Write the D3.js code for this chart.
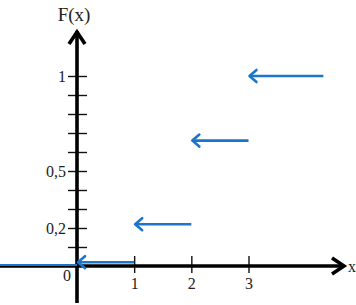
<!DOCTYPE html>
<html>
<head>
<meta charset="utf-8">
<script src="https://cdn.jsdelivr.net/npm/d3@7"></script>
<style>
  body { margin: 0; background: #fff; }
  svg { display: block; }
  text { font-family: "Liberation Serif", "Times New Roman", serif; fill: #222; }
</style>
</head>
<body>
<div id="chart"></div>
<script>
// step function F(x): each step starts at stepStart and runs to stepEnd
const stepStart = [-1.35, 0, 1, 2, 3];
const stepEnd = [0, 1, 2, 3, 4.31];
const stepValue = [0, 0.02, 0.22, 0.66, 1];

const xTicks = [1, 2, 3];
const yTicks = [0.1, 0.2, 0.3, 0.4, 0.5, 0.6, 0.7, 0.8, 0.9, 1];
const yLabels = {0.2: "0,2", 0.5: "0,5", 1: "1"};

const width = 356;
const height = 305;
const blue = "#1c75c9";

const svg = d3.select("#chart")
  .append("svg")
  .attr("width", width)
  .attr("height", height);

// scales: origin at (77, 266)
const x = d3.scaleLinear().domain([0, 3]).range([77, 248.5]);
const y = d3.scaleLinear().domain([0, 1]).range([266, 76]);

// y ticks, right half (no labels)
svg.append("g")
  .attr("transform", `translate(${x(0)},0)`)
  .call(d3.axisLeft(y).tickValues(yTicks).tickSize(-10).tickFormat(""))
  .call(g => g.select(".domain").remove())
  .call(g => g.selectAll("line").attr("stroke", "#111").attr("stroke-width", 1.4));

// y ticks, left half with labels
svg.append("g")
  .attr("transform", `translate(${x(0)},0)`)
  .call(d3.axisLeft(y).tickValues(yTicks).tickSize(9).tickPadding(2)
        .tickFormat(d => yLabels[d] || ""))
  .call(g => g.select(".domain").remove())
  .call(g => g.selectAll("line").attr("stroke", "#111").attr("stroke-width", 1.4))
  .call(g => g.selectAll("text").attr("font-size", 16)
        .attr("font-family", "Liberation Serif").attr("fill", "#333"));

// x ticks, upper half
svg.append("g")
  .attr("transform", `translate(0,${y(0)})`)
  .call(d3.axisBottom(x).tickValues(xTicks).tickSize(-10).tickFormat(""))
  .call(g => g.select(".domain").remove())
  .call(g => g.selectAll("line").attr("stroke", "#111").attr("stroke-width", 1.4));

// x ticks, lower half with labels
svg.append("g")
  .attr("transform", `translate(0,${y(0)})`)
  .call(d3.axisBottom(x).tickValues(xTicks).tickSize(7).tickPadding(5).tickFormat(d3.format("d")))
  .call(g => g.select(".domain").remove())
  .call(g => g.selectAll("line").attr("stroke", "#111").attr("stroke-width", 1.4))
  .call(g => g.selectAll("text").attr("font-size", 16)
        .attr("font-family", "Liberation Serif").attr("fill", "#333"));

// main axis lines
svg.append("line")
  .attr("x1", 0).attr("x2", 344)
  .attr("y1", y(0)).attr("y2", y(0))
  .attr("stroke", "#000").attr("stroke-width", 3.6);

svg.append("line")
  .attr("x1", x(0)).attr("x2", x(0))
  .attr("y1", 303).attr("y2", 31)
  .attr("stroke", "#000").attr("stroke-width", 3.6);

// axis arrow heads
svg.append("path")
  .attr("d", `M${x(0) - 8},${44} L${x(0)},${32} L${x(0) + 8},${44}`)
  .attr("fill", "none").attr("stroke", "#000").attr("stroke-width", 3.6)
  .attr("stroke-linejoin", "miter");

svg.append("path")
  .attr("d", `M${332},${y(0) - 8} L${344},${y(0)} L${332},${y(0) + 8}`)
  .attr("fill", "none").attr("stroke", "#000").attr("stroke-width", 3.6)
  .attr("stroke-linejoin", "miter");

// axis titles
svg.append("text")
  .attr("x", 74).attr("y", 21)
  .attr("text-anchor", "middle")
  .attr("font-size", 19)
  .text("F(x)");

svg.append("text")
  .attr("x", 352).attr("y", 272)
  .attr("text-anchor", "middle")
  .attr("font-size", 16)
  .attr("fill", "#333")
  .text("x");

svg.append("text")
  .attr("x", 67).attr("y", 281)
  .attr("text-anchor", "middle")
  .attr("font-size", 16)
  .attr("fill", "#333")
  .text("0");

// step lines
const steps = stepValue.map((v, i) => ({x0: stepStart[i], x1: stepEnd[i], v: v, i: i}));

svg.selectAll(".step")
  .data(steps)
  .enter()
  .append("line")
    .attr("class", "step")
    .attr("x1", d => x(d.x0) + (d.i > 0 ? 1 : 0))
    .attr("x2", d => x(d.x1))
    .attr("y1", d => y(d.v) - (d.i === 0 ? 1 : 0))
    .attr("y2", d => y(d.v) - (d.i === 0 ? 1 : 0))
    .attr("stroke", blue)
    .attr("stroke-width", d => d.i === 0 ? 2 : 2.6);

// open arrow heads at the left end of each step (except the first)
svg.selectAll(".head")
  .data(steps.filter(d => d.i > 0))
  .enter()
  .append("path")
    .attr("class", "head")
    .attr("d", d => {
      const tx = x(d.x0) + 1, ty = y(d.v);
      return `M${tx + 7},${ty - 6} L${tx},${ty} L${tx + 7},${ty + 6}`;
    })
    .attr("fill", "none")
    .attr("stroke", blue)
    .attr("stroke-width", 2.6)
    .attr("stroke-linecap", "round")
    .attr("stroke-linejoin", "round");
</script>
</body>
</html>
